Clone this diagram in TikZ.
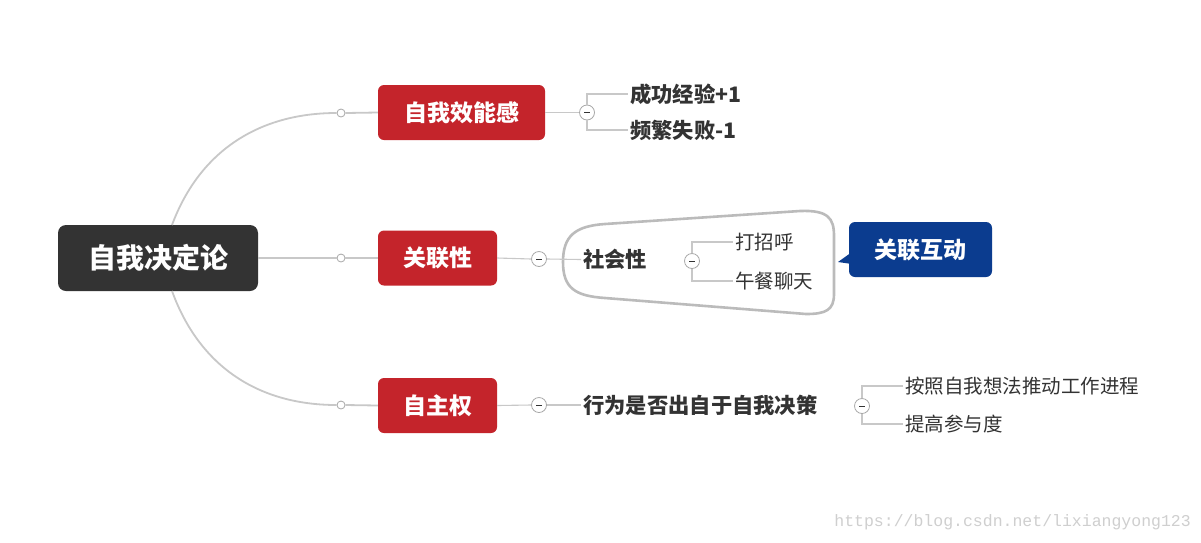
\documentclass[tikz,border=0pt]{standalone}
\usepackage{fontspec}
\setmainfont{Noto Sans CJK SC}
\newfontfamily\wmfont{Liberation Mono}
\definecolor{rootc}{HTML}{333333}
\definecolor{redc}{HTML}{C4242B}
\definecolor{bluec}{HTML}{0B3C8F}
\definecolor{linec}{HTML}{C8C8C8}
\definecolor{blobc}{HTML}{BBBBBB}
\definecolor{knobc}{HTML}{A8A8A8}
\definecolor{txtc}{HTML}{333333}
\definecolor{wmc}{HTML}{CFCFCF}
\begin{document}
\begin{tikzpicture}[x=1pt,y=-1pt,
  rootbox/.style={fill=rootc, rounded corners=8pt, text=white, font=\bfseries\fontsize{28}{30}\selectfont, minimum width=200pt, minimum height=66pt, inner sep=0pt},
  topicbox/.style={fill=redc, rounded corners=6pt, text=white, font=\bfseries\fontsize{23}{25}\selectfont, minimum height=55pt, inner sep=0pt},
  calloutbox/.style={fill=bluec, rounded corners=6pt, text=white, font=\bfseries\fontsize{23}{25}\selectfont, minimum width=143pt, minimum height=55pt, inner sep=0pt},
  knob/.style={circle, draw=knobc, fill=white, minimum size=8pt, inner sep=0pt, line width=0.8pt},
  collapse/.style={circle, draw=knobc, fill=white, minimum size=15pt, inner sep=0pt, line width=0.8pt,
    path picture={\draw[txtc, line width=1pt] ([xshift=-3pt]path picture bounding box.center) -- ([xshift=3pt]path picture bounding box.center);}},
  boldleaf/.style={anchor=west, inner sep=2pt, text=txtc, font=\bfseries\fontsize{21.3}{23}\selectfont},
  leaf/.style={anchor=west, inner sep=2pt, text=txtc, font=\fontsize{19.5}{21}\selectfont},
  mainline/.style={draw=linec, line width=1.8pt},
  thinline/.style={draw=linec, line width=1.1pt},
  blob/.style={draw=blobc, line width=2.6pt}
]
\useasboundingbox (0,0) rectangle (1201,542);
\fill[white] (0,0) rectangle (1201,542);

% root
\node[rootbox] (root) at (158,258) {自我决定论};

% knobs
\node[knob] (k1) at (341,113) {};
\node[knob] (k2) at (341,258) {};
\node[knob] (k3) at (341,405) {};

% topics
\node[topicbox, minimum width=167pt] (t1) at (461.5,112.5) {自我效能感};
\node[topicbox, minimum width=119pt] (t2) at (437.5,258) {关联性};
\node[topicbox, minimum width=119pt] (t3) at (437.5,405.5) {自主权};

% root connectors
\coordinate (rtop) at (172,225);
\coordinate (rbot) at (172,291);
\draw[mainline] (rtop) .. controls (200,150) and (260,113) .. (k1.west);
\draw[mainline] (rbot) .. controls (200,368) and (260,405) .. (k3.west);
\draw[mainline] (root.east) -- (k2.west);
\draw[mainline] (k1.east) -- (t1.west);
\draw[mainline] (k2.east) -- (t2.west);
\draw[mainline] (k3.east) -- (t3.west);

% branch 1
\node[collapse] (c1) at (587,112.5) {};
\node[boldleaf] (l11) at (628,94) {成功经验+1};
\node[boldleaf] (l12) at (628,130) {频繁失败-1};
\draw[thinline] (t1.east) -- (c1.west);
\draw[thinline] (c1.north) |- (l11.west);
\draw[thinline] (c1.south) |- (l12.west);

% branch 2
\node[collapse] (c2) at (539,259) {};
\draw[blob] (563,262) .. controls (563,236) and (575,226) .. (605,224)
  -- (800,211) .. controls (828,210) and (834,218) .. (834,236)
  -- (834,294) .. controls (834,310) and (826,314) .. (806,314)
  -- (605,298) .. controls (575,296) and (563,288) .. (563,262) -- cycle;
\node[boldleaf] (s2) at (581,259.5) {社会性};
\node[collapse] (c3) at (692,261) {};
\node[leaf] (l21) at (733,242) {打招呼};
\node[leaf] (l22) at (733,281) {午餐聊天};
\draw[thinline] (t2.east) -- (c2.west);
\draw[thinline] (c2.east) -- (s2.west);
\draw[thinline] (c3.north) |- (l21.west);
\draw[thinline] (c3.south) |- (l22.west);

% callout
\node[calloutbox] (co) at (920.5,249.5) {关联互动};
\coordinate (tip) at (838,262);
\fill[bluec] (852,252) -- (tip) -- (852,264) -- cycle;

% branch 3
\node[collapse] (c4) at (539,405) {};
\node[boldleaf] (s3) at (581,405) {行为是否出自于自我决策};
\node[collapse] (c5) at (862,406) {};
\node[leaf] (l31) at (903,386) {按照自我想法推动工作进程};
\node[leaf] (l32) at (903,424) {提高参与度};
\draw[thinline] (t3.east) -- (c4.west);
\draw[thinline] (c4.east) -- (s3.west);
\draw[thinline] (c5.north) |- (l31.west);
\draw[thinline] (c5.south) |- (l32.west);

% watermark
\node[anchor=east, inner sep=0pt, text=wmc, font=\wmfont\fontsize{16.5}{18}\selectfont] (wm) at (1191,522) {https://blog.csdn.net/lixiangyong123};
\end{tikzpicture}
\end{document}
